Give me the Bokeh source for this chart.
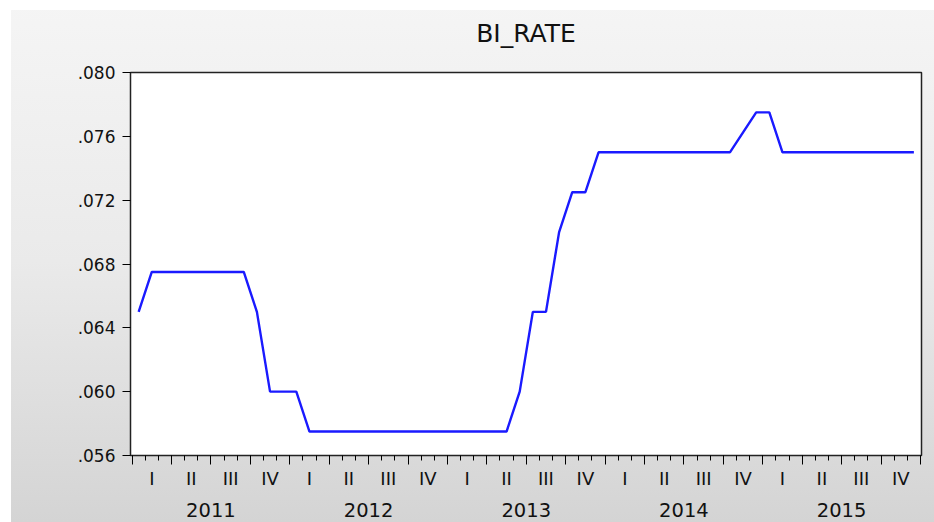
from bokeh.plotting import figure
from bokeh.models import FixedTicker, LinearAxis, Range1d, CustomJSTickFormatter
from bokeh.embed import file_html
from bokeh.resources import INLINE

# ---- data (monthly, 2011M01 .. 2015M12) ----
title_text = "BI_RATE"
years = ["2011", "2012", "2013", "2014", "2015"]
quarters = ["I", "II", "III", "IV"]
bi_rate = [
    0.0650, 0.0675, 0.0675, 0.0675, 0.0675, 0.0675, 0.0675, 0.0675, 0.0675, 0.0650, 0.0600, 0.0600,  # 2011
    0.0600, 0.0575, 0.0575, 0.0575, 0.0575, 0.0575, 0.0575, 0.0575, 0.0575, 0.0575, 0.0575, 0.0575,  # 2012
    0.0575, 0.0575, 0.0575, 0.0575, 0.0575, 0.0600, 0.0650, 0.0650, 0.0700, 0.0725, 0.0725, 0.0750,  # 2013
    0.0750, 0.0750, 0.0750, 0.0750, 0.0750, 0.0750, 0.0750, 0.0750, 0.0750, 0.0750, 0.07625, 0.0775, # 2014
    0.0775, 0.0750, 0.0750, 0.0750, 0.0750, 0.0750, 0.0750, 0.0750, 0.0750, 0.0750, 0.0750, 0.0750,  # 2015
]
y_ticks = [0.056, 0.060, 0.064, 0.068, 0.072, 0.076, 0.080]

n = len(bi_rate)
xs = [i + 0.5 for i in range(n)]

FONT = "DejaVu Sans"
TXT = "#111111"

x0, x1 = -0.12, n + 0.08

p = figure(width=934, height=522, output_backend="svg", toolbar_location=None,
           x_range=Range1d(x0, x1), y_range=Range1d(0.056, 0.080),
           min_border_left=130, min_border_right=13, min_border_top=72, min_border_bottom=67,
           x_axis_location=None, y_axis_location=None)

p.border_fill_color = None
p.styles = {"background": ("linear-gradient(#ffffff, #ffffff) 0 0 / 100% 10px no-repeat, "
                           "linear-gradient(#ffffff, #ffffff) 0 0 / 11px 100% no-repeat, "
                           "linear-gradient(to bottom, #f5f5f5 0%, #eaeaea 50%, #d4d4d4 100%)")}
p.background_fill_color = "white"
p.outline_line_color = "#222222"
p.outline_line_width = 1.5
p.grid.visible = False
p.title.visible = False

# title drawn as the label of an axis above the frame
t_center = (x0 + x1) / 2
tax = LinearAxis(ticker=FixedTicker(ticks=[t_center], minor_ticks=[]),
                 major_label_overrides={t_center: title_text})
tax.axis_line_color = None
tax.major_tick_line_color = None
tax.minor_tick_line_color = None
tax.major_tick_out = 0
tax.major_tick_in = 0
tax.major_label_standoff = 25
tax.major_label_text_font = FONT
tax.major_label_text_font_size = "25px"
tax.major_label_text_color = TXT
p.add_layout(tax, "above")

p.line(xs, bi_rate, line_color="#1a1aff", line_width=2.4)

# y axis
yax = LinearAxis(ticker=FixedTicker(ticks=y_ticks),
                 formatter=CustomJSTickFormatter(code="return tick.toFixed(3).replace(/^0/, '');"))
yax.axis_line_color = "#222222"
yax.major_tick_out = 8
yax.major_tick_in = 0
yax.minor_tick_line_color = None
yax.major_label_standoff = 7
yax.major_label_text_font = FONT
yax.major_label_text_font_size = "17px"
yax.major_label_text_color = TXT
p.add_layout(yax, "left")

# x axis: ticks only (quarter boundaries long, months short)
q_bounds = list(range(0, n + 1, 3))
m_bounds = list(range(0, n + 1))
xax = LinearAxis(ticker=FixedTicker(ticks=q_bounds, minor_ticks=m_bounds),
                 formatter=CustomJSTickFormatter(code="return '';"))
xax.axis_line_color = "#222222"
xax.major_tick_out = 9
xax.major_tick_in = 0
xax.minor_tick_out = 5
xax.minor_tick_in = 0
xax.major_label_text_font_size = "1px"
xax.major_label_standoff = 0
p.add_layout(xax, "below")

# quarter labels
q_centers = [3 * k + 1.5 for k in range(len(years) * 4)]
q_over = {c: quarters[k % 4] for k, c in enumerate(q_centers)}
qax = LinearAxis(ticker=FixedTicker(ticks=q_centers, minor_ticks=[]), major_label_overrides=q_over)
qax.axis_line_color = None
qax.major_tick_line_color = None
qax.minor_tick_line_color = None
qax.major_tick_out = 0
qax.major_tick_in = 0
qax.major_label_standoff = 3
qax.major_label_text_font = FONT
qax.major_label_text_font_size = "18px"
qax.major_label_text_color = TXT
p.add_layout(qax, "below")

# year labels
y_centers = [12 * k + 6 for k in range(len(years))]
y_over = {c: years[k] for k, c in enumerate(y_centers)}
yrax = LinearAxis(ticker=FixedTicker(ticks=y_centers, minor_ticks=[]), major_label_overrides=y_over)
yrax.axis_line_color = None
yrax.major_tick_line_color = None
yrax.minor_tick_line_color = None
yrax.major_tick_out = 0
yrax.major_tick_in = 0
yrax.major_label_standoff = 11
yrax.major_label_text_font = FONT
yrax.major_label_text_font_size = "19.5px"
yrax.major_label_text_color = TXT
p.add_layout(yrax, "below")

open("out.html", "w").write(file_html(p, INLINE))
